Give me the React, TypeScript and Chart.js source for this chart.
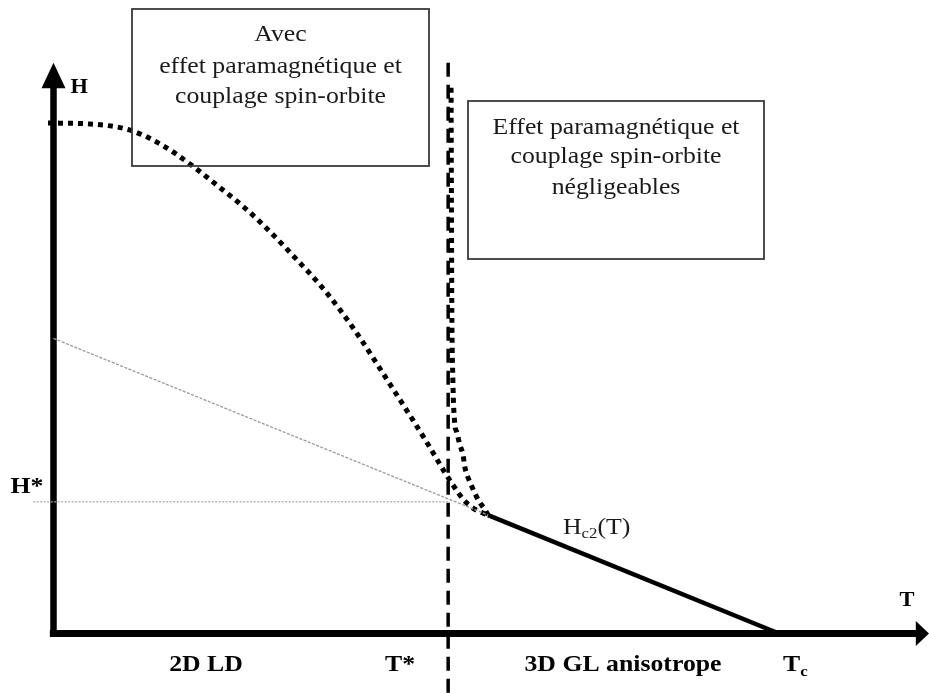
import React, { useEffect, useRef } from "react";
import { Chart, registerables } from "chart.js";

Chart.register(...registerables);

// Arbitrary units: T (Tc = 10), H (top of paramagnetic curve = 10)
const T_STAR = 5.44;
const T_C = 10;
const H_STAR = 2.58;

// Curve with paramagnetic effect + spin-orbit coupling
const T_PARA = [-0.076, 0.503, 1.054, 1.468, 1.84, 2.254, 2.667, 3.012, 3.356, 3.673, 3.949, 4.225, 4.459, 4.707, 4.955, 5.19, 5.396, 5.534, 5.645, 5.741, 5.851, 5.989];
const H_PARA = [10.0, 9.98, 9.86, 9.59, 9.24, 8.78, 8.3, 7.83, 7.32, 6.83, 6.34, 5.79, 5.28, 4.73, 4.18, 3.64, 3.15, 2.85, 2.63, 2.5, 2.4, 2.32];

// Curve without (negligible) paramagnetic effect
const T_NOPARA = [5.48, 5.485, 5.49, 5.505, 5.53, 5.56, 5.6, 5.645, 5.67, 5.71, 5.77, 5.82, 5.88, 5.95, 5.99];
const H_NOPARA = [10.69, 8.49, 6.53, 4.97, 4.13, 3.94, 3.7, 3.5, 3.26, 3.07, 2.87, 2.71, 2.56, 2.42, 2.32];

// Hc2(T) linear (3D GL) and its extrapolation
const T_HC2 = [5.99, 10];
const H_HC2 = [2.32, 0];
const T_EXTRAP = [0, 5.99];
const H_EXTRAP = [5.78, 2.32];

// H* guide and T* boundary
const T_HSTAR = [-0.28, T_STAR];
const H_HSTAR = [H_STAR, H_STAR];
const T_TSTAR = [T_STAR, T_STAR];
const H_TSTAR = [11.18, -1.17];

// Axes
const T_AXIS = [-0.05, 11.9];
const H_AXIS = [0, 10.7];

const X_MIN = -0.7374;
const X_MAX = 12.068;
const Y_MIN = -1.1655;
const Y_MAX = 12.409;

const pts = (xs: number[], ys: number[]) => xs.map((x, i) => ({ x, y: ys[i] }));

const SX = 1.12;
const SERIF = '"Liberation Serif", "Times New Roman", serif';

function txt(ctx: CanvasRenderingContext2D, s: string, x: number, y: number, font: string, align: CanvasTextAlign = "center", color = "#000") {
  ctx.save();
  ctx.translate(x, y);
  ctx.scale(SX, 1);
  ctx.font = font;
  ctx.fillStyle = color;
  ctx.textAlign = align;
  ctx.textBaseline = "middle";
  ctx.fillText(s, 0, 0);
  ctx.restore();
}
function w(ctx: CanvasRenderingContext2D, s: string, font: string) {
  ctx.save();
  ctx.font = font;
  const m = ctx.measureText(s).width * SX;
  ctx.restore();
  return m;
}

const decor = {
  id: "decor",
  afterDatasetsDraw(chart: any) {
    const ctx: CanvasRenderingContext2D = chart.ctx;
    const xs = chart.scales.x;
    const ys = chart.scales.y;
    const px = (v: number) => xs.getPixelForValue(v);
    const py = (v: number) => ys.getPixelForValue(v);
    ctx.save();
    // arrowheads
    ctx.fillStyle = "#000";
    const x0 = px(0);
    const yTip = py(11.18);
    const yBase = py(H_AXIS[1]);
    ctx.beginPath();
    ctx.moveTo(x0, yTip);
    ctx.lineTo(x0 - 12, yBase + 1);
    ctx.lineTo(x0 + 12, yBase + 1);
    ctx.closePath();
    ctx.fill();
    const y0 = py(0);
    const xTip = px(X_MAX);
    const xBase = px(T_AXIS[1]);
    ctx.beginPath();
    ctx.moveTo(xTip, y0);
    ctx.lineTo(xBase - 1, y0 - 12.5);
    ctx.lineTo(xBase - 1, y0 + 12.5);
    ctx.closePath();
    ctx.fill();

    // boxes
    ctx.strokeStyle = "#3a3a3a";
    ctx.lineWidth = 1.8;
    ctx.strokeRect(132, 9, 297, 157);
    ctx.strokeRect(468, 101, 296, 158);

    const reg = `23px ${SERIF}`;
    const bold = `bold 23px ${SERIF}`;
    const boldS = `bold 20px ${SERIF}`;
    const c1 = "#1a1a1a";
    txt(ctx, "Avec", 280.5, 35, reg, "center", c1);
    txt(ctx, "effet paramagnétique et", 280.5, 67, reg, "center", c1);
    txt(ctx, "couplage spin-orbite", 280.5, 97, reg, "center", c1);
    txt(ctx, "Effet paramagnétique et", 616, 128, reg, "center", c1);
    txt(ctx, "couplage spin-orbite", 616, 157, reg, "center", c1);
    txt(ctx, "négligeables", 616, 188, reg, "center", c1);

    // axis labels
    txt(ctx, "H", x0 + 17, 88, boldS, "left");
    txt(ctx, "T", 907, y0 - 33, boldS, "center");
    txt(ctx, "H*", 27, py(H_STAR) - 15, bold, "center");

    const yb = y0 + 32;
    txt(ctx, "2D LD", 206, yb, bold, "center");
    txt(ctx, "T*", 400, yb, bold, "center");
    txt(ctx, "3D GL anisotrope", 623, yb, bold, "center");
    const tcx = px(T_C) + 4;
    txt(ctx, "T", tcx, yb, bold, "left");
    txt(ctx, "c", tcx + w(ctx, "T", bold), yb + 7, `bold 15px ${SERIF}`, "left");

    // Hc2(T)
    const hx = 563;
    const hy = 528;
    txt(ctx, "H", hx, hy, reg, "left", c1);
    const hw = w(ctx, "H", reg);
    txt(ctx, "c2", hx + hw, hy + 6, `15px ${SERIF}`, "left", c1);
    const cw = w(ctx, "c2", `15px ${SERIF}`);
    txt(ctx, "(T)", hx + hw + cw, hy, reg, "left", c1);
    ctx.restore();
  },
};

export default function App() {
  const ref = useRef<HTMLCanvasElement>(null);
  useEffect(() => {
    document.body.style.margin = "0";
    const canvas = ref.current!;
    const chart = new Chart(canvas, {
      type: "scatter",
      data: {
        datasets: [
          {
            label: "H*",
            data: pts(T_HSTAR, H_HSTAR),
            showLine: true,
            borderColor: "#a8a8a8",
            borderWidth: 1.3,
            borderDash: [2, 1.5],
            pointRadius: 0,
          },
          {
            label: "extrapolation",
            data: pts(T_EXTRAP, H_EXTRAP),
            showLine: true,
            borderColor: "#9a9a9a",
            borderWidth: 1.3,
            borderDash: [3, 1.5],
            pointRadius: 0,
          },
          {
            label: "T*",
            data: pts(T_TSTAR, H_TSTAR),
            showLine: true,
            borderColor: "#000",
            borderWidth: 3.5,
            borderDash: [14, 8],
            pointRadius: 0,
          },
          {
            label: "para",
            data: pts(T_PARA, H_PARA),
            showLine: true,
            borderColor: "#000",
            borderWidth: 5,
            borderDash: [5, 5],
            cubicInterpolationMode: "monotone",
            pointRadius: 0,
          },
          {
            label: "nopara",
            data: pts(T_NOPARA, H_NOPARA),
            showLine: true,
            borderColor: "#000",
            borderWidth: 5,
            borderDash: [5, 5],
            cubicInterpolationMode: "monotone",
            pointRadius: 0,
          },
          {
            label: "Hc2",
            data: pts(T_HC2, H_HC2),
            showLine: true,
            borderColor: "#000",
            borderWidth: 4.5,
            pointRadius: 0,
          },
          {
            label: "T axis",
            data: pts(T_AXIS, [0, 0]),
            showLine: true,
            borderColor: "#000",
            borderWidth: 7,
            pointRadius: 0,
          },
          {
            label: "H axis",
            data: pts([0, 0], [-0.07, H_AXIS[1]]),
            showLine: true,
            borderColor: "#000",
            borderWidth: 6.5,
            pointRadius: 0,
          },
        ],
      },
      options: {
        animation: false,
        responsive: false,
        layout: { padding: 0 },
        plugins: { legend: { display: false }, tooltip: { enabled: false } },
        scales: {
          x: { type: "linear", min: X_MIN, max: X_MAX, display: false },
          y: { type: "linear", min: Y_MIN, max: Y_MAX, display: false },
        },
      },
      plugins: [decor],
    });
    return () => chart.destroy();
  }, []);
  return (
    <div style={{ width: 929, height: 693, background: "#fff" }}>
      <canvas ref={ref} width={929} height={693} style={{ display: "block" }} />
    </div>
  );
}
